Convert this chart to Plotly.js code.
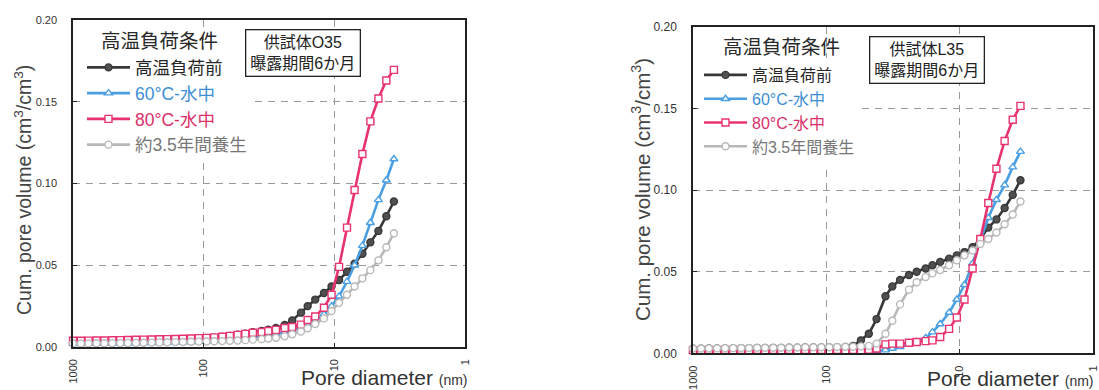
<!DOCTYPE html>
<html>
<head>
<meta charset="utf-8">
<script src="https://cdn.plot.ly/plotly-3.0.1.min.js"></script>
<style>html,body{margin:0;padding:0;background:#fff;}#chart{width:1099px;height:390px;}</style>
</head>
<body>
<div id="chart"></div>
<script>
// Pore diameters (nm), shared by all series
const diameters = [1000,870,760,660,575,500,435,380,330,288,250,218,190,165,144,125,109,95,83,72,63,55,48,42,36,32,28,24,21,18,16,14,12,10.5,9.2,8,7,6.1,5.3,4.6,4.0,3.5];

const seriesNames = ['高温負荷前', '60°C-水中', '80°C-水中', '約3.5年間養生'];

// Specimen O35 (left chart)
const o35Before = [0.0028,0.0029,0.0030,0.0031,0.0032,0.0033,0.0034,0.0035,0.0036,0.0037,
  0.0038,0.0040,0.0041,0.0043,0.0045,0.0047,0.0050,0.0053,0.0057,0.0062,
  0.0068,0.0075,0.0082,0.0090,0.0098,0.0106,0.0116,0.0135,0.0162,0.0210,
  0.0250,0.0290,0.0330,0.0370,0.0410,0.0460,0.0510,0.0570,0.0640,0.0710,
  0.0800,0.0890];
const o35Water60 = [0.0020,0.0020,0.0021,0.0021,0.0022,0.0022,0.0023,0.0023,0.0024,0.0025,
  0.0026,0.0027,0.0028,0.0029,0.0030,0.0031,0.0033,0.0035,0.0038,0.0041,
  0.0045,0.0049,0.0054,0.0059,0.0065,0.0071,0.0080,0.0090,0.0105,0.0120,
  0.0135,0.0160,0.0200,0.0250,0.0310,0.0400,0.0500,0.0620,0.0760,0.0900,
  0.1020,0.1150];
const o35Water80 = [0.0038,0.0038,0.0039,0.0040,0.0040,0.0041,0.0042,0.0043,0.0044,0.0045,
  0.0046,0.0047,0.0048,0.0049,0.0050,0.0052,0.0054,0.0056,0.0059,0.0063,
  0.0068,0.0074,0.0080,0.0087,0.0092,0.0098,0.0105,0.0116,0.0122,0.0137,
  0.0165,0.0187,0.0240,0.0320,0.0490,0.0730,0.0960,0.1180,0.1380,0.1520,
  0.1630,0.1695];
const o35Cured = [0.0022,0.0022,0.0022,0.0023,0.0023,0.0024,0.0024,0.0025,0.0025,0.0026,
  0.0027,0.0028,0.0029,0.0030,0.0031,0.0032,0.0033,0.0034,0.0035,0.0036,
  0.0038,0.0040,0.0042,0.0045,0.0048,0.0052,0.0057,0.0065,0.0078,0.0095,
  0.0115,0.0140,0.0175,0.0220,0.0270,0.0320,0.0370,0.0420,0.0470,0.0530,
  0.0610,0.0696];

// Specimen L35 (right chart)
const l35Before = [0.0028,0.0029,0.0030,0.0030,0.0031,0.0031,0.0032,0.0032,0.0033,0.0033,
  0.0034,0.0034,0.0035,0.0035,0.0036,0.0036,0.0037,0.0037,0.0038,0.0040,
  0.0045,0.0080,0.0120,0.0210,0.0350,0.0410,0.0450,0.0480,0.0500,0.0520,
  0.0540,0.0560,0.0580,0.0600,0.0620,0.0650,0.0700,0.0770,0.0820,0.0890,
  0.0970,0.1060];
const l35Water60 = [0.0010,0.0010,0.0010,0.0010,0.0010,0.0010,0.0010,0.0010,0.0010,0.0010,
  0.0010,0.0010,0.0010,0.0010,0.0010,0.0010,0.0010,0.0010,0.0010,0.0010,
  0.0010,0.0010,0.0012,0.0015,0.0020,0.0030,0.0040,0.0055,0.0070,0.0095,
  0.0130,0.0180,0.0250,0.0330,0.0420,0.0550,0.0690,0.0830,0.0940,0.1030,
  0.1140,0.1235];
const l35Water80 = [0.0020,0.0020,0.0021,0.0020,0.0021,0.0020,0.0021,0.0020,0.0021,0.0020,
  0.0021,0.0020,0.0021,0.0020,0.0021,0.0020,0.0021,0.0020,0.0021,0.0020,
  0.0021,0.0020,0.0022,0.0030,0.0055,0.0060,0.0060,0.0065,0.0070,0.0075,
  0.0080,0.0100,0.0150,0.0220,0.0330,0.0520,0.0700,0.0920,0.1130,0.1300,
  0.1430,0.1515];
const l35Cured = [0.0030,0.0030,0.0031,0.0031,0.0032,0.0032,0.0033,0.0033,0.0034,0.0034,
  0.0035,0.0035,0.0036,0.0036,0.0037,0.0037,0.0038,0.0038,0.0039,0.0040,
  0.0041,0.0043,0.0046,0.0060,0.0120,0.0200,0.0300,0.0390,0.0435,0.0467,
  0.0490,0.0510,0.0540,0.0570,0.0600,0.0630,0.0670,0.0700,0.0740,0.0790,
  0.0850,0.0930];

const xTickVals = [1000, 100, 10, 1];
const xTickText = ['1000', '100', '10', '1'];
const panelLabels = ['供試体O35<br>曝露期間6か月', '供試体L35<br>曝露期間6か月'];
const legendHeading = '高温負荷条件';

const FONT = '"Liberation Sans", Arial, "Noto Sans CJK JP", sans-serif';
const W = 1099, H = 390;
const px = v => v / W;
const py = v => 1 - v / H;

const styles = [
  {color: '#383838', symbol: 'circle', fill: '#505050', text: '#262626'},
  {color: '#4a9fe3', symbol: 'triangle-up', fill: '#ffffff', text: '#3d8fd6'},
  {color: '#e8336f', symbol: 'square', fill: '#ffffff', text: '#d9306a'},
  {color: '#b8b8b8', symbol: 'circle', fill: '#ffffff', text: '#777777'}
];

function makeTraces(valsList, xa, ya, leg) {
  return valsList.map((vals, i) => ({
    type: 'scatter', mode: 'lines+markers',
    x: diameters, y: vals, xaxis: xa, yaxis: ya, legend: leg,
    name: '<span style="color:' + styles[i].text + '">' + seriesNames[i] + '</span>',
    line: {color: styles[i].color, width: 2.6},
    marker: {symbol: styles[i].symbol, size: 7, color: styles[i].fill,
             line: {color: styles[i].color, width: 1.4}},
    cliponaxis: false
  }));
}

const traces = [].concat(
  makeTraces([o35Before, o35Water60, o35Water80, o35Cured], 'x', 'y', 'legend'),
  makeTraces([l35Before, l35Water60, l35Water80, l35Cured], 'x2', 'y2', 'legend2')
);

function xAxis(domain, anchor) {
  return {
    type: 'log', range: [3, 0], domain: domain, anchor: anchor,
    tickvals: xTickVals, ticktext: xTickText, tickangle: -90,
    tickfont: {family: FONT, size: 11, color: '#333'},
    ticks: 'inside', ticklen: 4, tickcolor: '#222', ticklabelstandoff: 6,
    showline: true, mirror: true, linecolor: '#222', linewidth: 1.7,
    showgrid: true, gridcolor: '#9a9a9a', gridwidth: 1, griddash: '7px,6px',
    zeroline: false, fixedrange: true
  };
}
function yAxis(domain, anchor, fs) {
  return {
    range: [0, 0.20], dtick: 0.05, tickformat: '.2f', domain: domain, anchor: anchor,
    tickfont: {family: FONT, size: fs, color: '#333'},
    ticks: 'inside', ticklen: 4, tickcolor: '#222', ticklabelstandoff: 12,
    showline: true, mirror: true, linecolor: '#222', linewidth: 1.7,
    showgrid: true, gridcolor: '#9a9a9a', gridwidth: 1, griddash: '7px,6px',
    zeroline: false, fixedrange: true
  };
}

function legendCfg(x, y, fs) {
  return {
    x: px(x), y: py(y), xanchor: 'left', yanchor: 'top',
    bgcolor: '#ffffff', borderwidth: 0, itemwidth: 43,
    font: {family: FONT, size: fs, color: '#262626'},
    itemclick: false, itemdoubleclick: false
  };
}

const annotations = [
  // y-axis titles
  {text: 'Cum. pore volume (cm<sup>3</sup>/cm<sup>3</sup>)', xref: 'paper', yref: 'paper',
   x: px(23), y: py(190), textangle: -90, showarrow: false, xanchor: 'center', yanchor: 'middle',
   font: {family: FONT, size: 19.5, color: '#444'}},
  {text: 'Cum. pore volume (cm<sup>3</sup>/cm<sup>3</sup>)', xref: 'paper', yref: 'paper',
   x: px(641), y: py(190), textangle: -90, showarrow: false, xanchor: 'center', yanchor: 'middle',
   font: {family: FONT, size: 20.5, color: '#444'}},
  // x-axis titles
  {text: 'Pore diameter <span style="font-size:14px">(nm)</span>', xref: 'paper', yref: 'paper',
   x: px(470), y: py(377), showarrow: false, xanchor: 'right', yanchor: 'middle',
   font: {family: FONT, size: 21, color: '#333'}},
  {text: 'Pore diameter <span style="font-size:14px">(nm)</span>', xref: 'paper', yref: 'paper',
   x: px(1096), y: py(378), showarrow: false, xanchor: 'right', yanchor: 'middle',
   font: {family: FONT, size: 21, color: '#333'}},
  // legend headings
  {text: legendHeading, xref: 'paper', yref: 'paper', x: px(159), y: py(41),
   showarrow: false, xanchor: 'center', yanchor: 'middle',
   font: {family: FONT, size: 19.5, color: '#2a2a2a'}},
  {text: legendHeading, xref: 'paper', yref: 'paper', x: px(781), y: py(47),
   showarrow: false, xanchor: 'center', yanchor: 'middle',
   font: {family: FONT, size: 19.5, color: '#2a2a2a'}},
  // specimen boxes
  {text: panelLabels[0], xref: 'paper', yref: 'paper', x: px(302.5), y: py(53.5),
   showarrow: false, xanchor: 'center', yanchor: 'middle', align: 'center',
   bordercolor: '#222', borderwidth: 1.3, borderpad: 4, bgcolor: '#ffffff',
   font: {family: FONT, size: 16, color: '#222'}},
  {text: panelLabels[1], xref: 'paper', yref: 'paper', x: px(926.5), y: py(59.5),
   showarrow: false, xanchor: 'center', yanchor: 'middle', align: 'center',
   bordercolor: '#222', borderwidth: 1.3, borderpad: 4, bgcolor: '#ffffff',
   font: {family: FONT, size: 16, color: '#222'}}
];

const layout = {
  width: W, height: H,
  margin: {l: 0, r: 0, t: 0, b: 0},
  paper_bgcolor: '#ffffff', plot_bgcolor: '#ffffff',
  font: {family: FONT},
  xaxis: xAxis([px(73), px(465)], 'y'),
  yaxis: yAxis([py(347), py(20)], 'x', 11),
  xaxis2: xAxis([px(693), px(1093)], 'y2'),
  yaxis2: yAxis([py(353.4), py(26.6)], 'x2', 12),
  legend: legendCfg(82, 49.5, 17.5),
  legend2: legendCfg(699, 58, 16),
  showlegend: true,
  annotations: annotations
};

Plotly.newPlot('chart', traces, layout, {displayModeBar: false, staticPlot: true});
</script>
</body>
</html>
